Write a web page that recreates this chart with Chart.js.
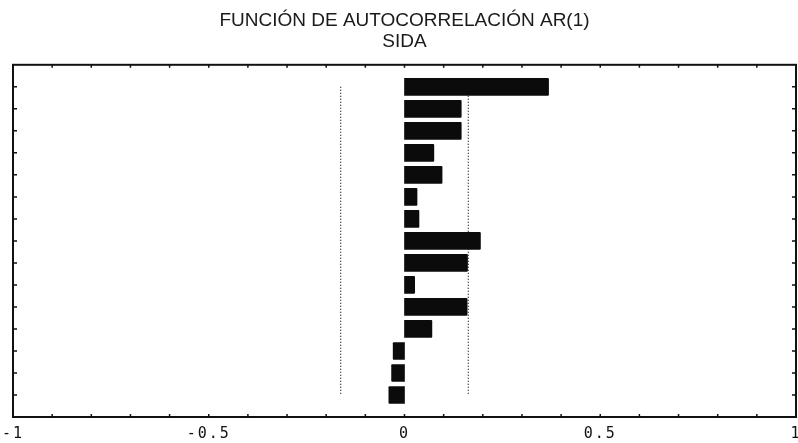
<!DOCTYPE html>
<html>
<head>
<meta charset="utf-8">
<script src="https://cdn.jsdelivr.net/npm/chart.js@4.4.1/dist/chart.umd.min.js"></script>
<style>
html, body { margin: 0; padding: 0; background: #fff; }
#wrap { width: 798px; height: 443px; }
</style>
</head>
<body>
<div id="wrap"><canvas id="acfChart"></canvas></div>
<script>
// --- ACF data ---
const lags = [1, 2, 3, 4, 5, 6, 7, 8, 9, 10, 11, 12, 13, 14, 15];
const acfValues = [0.368, 0.145, 0.145, 0.075, 0.096, 0.032, 0.037, 0.194, 0.161, 0.026, 0.160, 0.070, -0.029, -0.033, -0.040];
const confUpper = 0.163;
const confLower = -0.163;
const xTickLabels = [-1, -0.5, 0, 0.5, 1];

// frame + inward tick marks, like the original plot
const framePlugin = {
    id: 'frame',
    afterLayout(chart) {
        const xs = chart.scales.x;
        if (!xs._spaced) {
            const orig = xs.drawLabels.bind(xs);
            xs.drawLabels = function(area) {
                const c = this.ctx;
                c.save();
                c.letterSpacing = '2px';
                orig(area);
                c.restore();
            };
            xs._spaced = true;
        }
    },
    afterDatasetsDraw(chart) {
        const { ctx, chartArea: a, scales: { x, y } } = chart;
        ctx.save();
        ctx.strokeStyle = '#111';
        ctx.lineWidth = 2;
        ctx.strokeRect(a.left, a.top, a.right - a.left, a.bottom - a.top);
        ctx.lineWidth = 1.5;
        ctx.beginPath();
        x.ticks.forEach(t => {
            const px = x.getPixelForValue(t.value);
            ctx.moveTo(px, a.bottom); ctx.lineTo(px, a.bottom - 3);
            ctx.moveTo(px, a.top); ctx.lineTo(px, a.top + 3);
        });
        y.ticks.forEach(t => {
            if (t.value <= y.min || t.value >= y.max) return;
            const py = y.getPixelForValue(t.value);
            ctx.moveTo(a.left, py); ctx.lineTo(a.left + 4, py);
            ctx.moveTo(a.right, py); ctx.lineTo(a.right - 4, py);
        });
        ctx.stroke();
        ctx.restore();
    }
};

const ctx = document.getElementById('acfChart').getContext('2d');
new Chart(ctx, {
    type: 'bar',
    data: {
        datasets: [
            {
                type: 'bar',
                data: lags.map((l, i) => ({ x: acfValues[i], y: l })),
                backgroundColor: '#0b0b0b',
                barThickness: 17,
                borderRadius: 1
            },
            {
                type: 'line',
                data: lags.map(l => ({ x: confUpper, y: l })),
                borderColor: '#111',
                borderWidth: 1.2,
                borderDash: [1, 2],
                pointRadius: 0
            },
            {
                type: 'line',
                data: lags.map(l => ({ x: confLower, y: l })),
                borderColor: '#111',
                borderWidth: 1.2,
                borderDash: [1, 2],
                pointRadius: 0
            }
        ]
    },
    options: {
        indexAxis: 'y',
        responsive: true,
        maintainAspectRatio: false,
        animation: false,
        layout: { padding: { top: 6, left: 13, right: 2, bottom: 0 } },
        plugins: {
            legend: { display: false },
            tooltip: { enabled: false },
            title: {
                display: true,
                text: ['FUNCIÓN DE AUTOCORRELACIÓN AR(1)', 'SIDA'],
                color: '#1a1a1a',
                font: { family: 'Liberation Sans', size: 19, weight: 'normal', lineHeight: 1.1 },
                padding: { top: 4, bottom: 13 }
            }
        },
        scales: {
            x: {
                type: 'linear',
                min: -1,
                max: 1,
                grid: { display: false, drawTicks: false },
                border: { display: false },
                ticks: {
                    stepSize: 0.1,
                    autoSkip: false,
                    maxRotation: 0,
                    padding: 8,
                    color: '#111',
                    font: { family: 'DejaVu Sans Mono', size: 15, lineHeight: 1.2 },
                    callback: function(value) {
                        const hit = xTickLabels.find(l => Math.abs(l - value) < 1e-6);
                        return hit === undefined ? '' : String(hit);
                    }
                },
                afterFit: function(scale) {
                    scale.paddingLeft = 0;
                    scale.paddingRight = 0;
                    scale.height = 26;
                }
            },
            y: {
                type: 'linear',
                min: 0,
                max: 16,
                reverse: true,
                offset: false,
                grid: { display: false, drawTicks: false, offset: false },
                border: { display: false },
                ticks: { display: false, stepSize: 1 }
            }
        }
    },
    plugins: [framePlugin]
});
</script>
</body>
</html>
